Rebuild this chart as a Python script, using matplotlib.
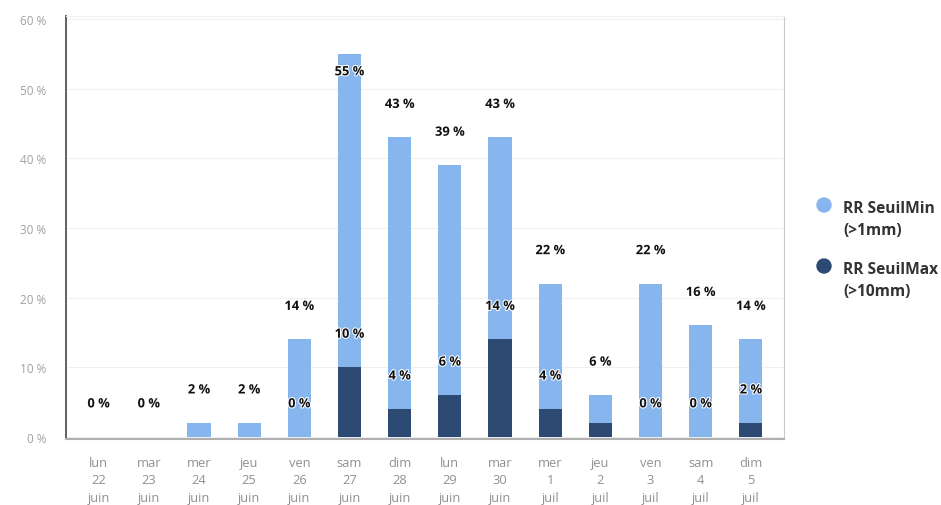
import numpy as np
import matplotlib
matplotlib.use('Agg')
from matplotlib import pyplot as plt
from matplotlib.patches import Ellipse
import matplotlib.patheffects as pe

# days shown on the x axis
days = ['lun\n22\njuin', 'mar\n23\njuin', 'mer\n24\njuin', 'jeu\n25\njuin', 'ven\n26\njuin',
        'sam\n27\njuin', 'dim\n28\njuin', 'lun\n29\njuin', 'mar\n30\njuin', 'mer\n1\njuil',
        'jeu\n2\njuil', 'ven\n3\njuil', 'sam\n4\njuil', 'dim\n5\njuil']
seuil_min = [0, 0, 2, 2, 14, 55, 43, 39, 43, 22, 6, 22, 16, 14]   # RR > 1 mm
seuil_max = [0, 0, 0, 0, 0, 10, 4, 6, 14, 4, 2, 0, 0, 2]          # RR > 10 mm
series_names = ['RR SeuilMin\n(>1mm)', 'RR SeuilMax\n(>10mm)']
yticks = [0, 10, 20, 30, 40, 50, 60]

c_light = '#87b5ee'
c_dark = '#2d4a72'

plt.rcParams['font.family'] = ['Open Sans', 'DejaVu Sans']

W, H = 941, 506
fig = plt.figure(figsize=(W / 100, H / 100), dpi=100)
ax = fig.add_axes([66 / W, 1 - 440 / H, 718 / W, 423 / H])

x = np.arange(len(days))
bw = 0.46
ax.bar(x, seuil_min, width=bw, color=c_light, zorder=2)
ax.bar(x, seuil_max, width=bw, color=c_dark, zorder=3)

ax.set_xlim(-0.65, 13.66)
ax.set_ylim(-0.3, 60.43)

ax.set_yticks(yticks)
ax.set_yticklabels(['%d %%' % v for v in yticks])
ax.set_xticks(x)
ax.set_xticklabels(days, linespacing=1.45)
ax.tick_params(axis='y', length=0, pad=14, labelsize=8.5, labelcolor='#a0a0a0')
ax.tick_params(axis='x', length=0, pad=12, labelsize=9.3, labelcolor='#909090')

ax.grid(axis='y', color='#f0f0f0', lw=0.8, zorder=0)
ax.spines['left'].set_color('#555555')
ax.spines['left'].set_linewidth(1.3)
ax.spines['bottom'].set_color('#b0b0b0')
ax.spines['bottom'].set_linewidth(1.5)
ax.spines['right'].set_color('#c8c8c8')
ax.spines['right'].set_linestyle((0, (2, 1)))
ax.spines['top'].set_color('#f0f0f0')

outline = [pe.withStroke(linewidth=1.5, foreground='white')]
lab_kw = dict(textcoords='offset pixels', ha='center', va='center', fontsize=9.3,
              fontweight='bold', color='#111111', zorder=5, path_effects=outline)

for i in range(len(days)):
    v = seuil_min[i]
    dy = 33
    if v > 50:
        dy = -18   # no room above: label goes inside the bar
    ax.annotate('%d %%' % v, (x[i], v), xytext=(0, dy), **lab_kw)
    d = seuil_max[i]
    # hide the dark label when it would clash with the light one
    if v - d >= 5:
        ax.annotate('%d %%' % d, (x[i], d), xytext=(0, 33), **lab_kw)

# legend on the right, cut off by the image edge
for k, (name, col) in enumerate(zip(series_names, [c_light, c_dark])):
    yc = 206 + k * 61
    fig.add_artist(Ellipse((824 / W, 1 - yc / H), 14 / W, 14 / H, color=col,
                           transform=fig.transFigure))
    line1, line2 = name.split('\n')
    fig.text(843 / W, 1 - (yc + 3) / H, line1, ha='left', va='center',
             fontsize=11.2, fontweight='bold', color='#333333')
    fig.text(843 / W, 1 - (yc + 25) / H, line2, ha='left', va='center',
             fontsize=11.2, fontweight='bold', color='#333333')

fig.savefig('out.png', dpi=100, facecolor='w')
